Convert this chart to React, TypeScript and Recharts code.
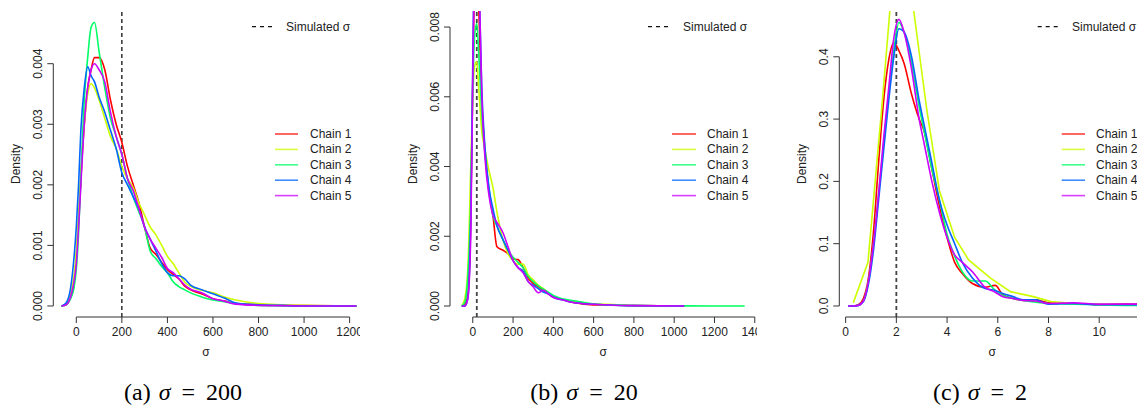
import React from 'react';
import { LineChart, Line, XAxis, YAxis, ReferenceLine } from 'recharts';

const FONT = '"Liberation Sans", Arial, Helvetica, sans-serif';
const SERIF = '"Liberation Serif", "Times New Roman", Times, serif';
const TEXT = '#222';
const AX = '#333';

const chainNames = ['Chain 1', 'Chain 2', 'Chain 3', 'Chain 4', 'Chain 5'];
const chainColors = ['#FF0000', '#CCFF00', '#00FF66', '#0066FF', '#CC00FF'];

// ---------- Panel (a): simulated sigma = 200 ----------
const xA = [-65, -45, -25, -10, 0, 10, 20, 35, 50, 65, 80, 100, 125, 150, 175, 200, 225, 250, 275, 300, 325, 350, 375, 400, 425, 450, 475, 500, 550, 600, 650, 700, 800, 900, 1000, 1230];
const a1 = [0, 0.00002, 0.00015, 0.0004, 0.0008, 0.0014, 0.0021, 0.003, 0.0036, 0.0039, 0.0041, 0.0041, 0.0039, 0.0034, 0.003, 0.0027, 0.0023, 0.002, 0.0017, 0.0013, 0.00095, 0.00085, 0.00072, 0.0006, 0.00052, 0.00045, 0.00033, 0.00027, 0.0002, 0.00012, 0.00008, 0.00004, 0.00002, 0.00001, 0.000005, 0];
const a2 = [0, 0.00003, 0.0002, 0.0005, 0.0009, 0.0015, 0.0022, 0.003, 0.0035, 0.00367, 0.0036, 0.0034, 0.0031, 0.0028, 0.0026, 0.0023, 0.0021, 0.00195, 0.0017, 0.0015, 0.0013, 0.00117, 0.001, 0.00082, 0.0007, 0.00055, 0.0004, 0.00033, 0.00026, 0.00022, 0.00015, 0.0001, 0.00004, 0.00002, 0.00001, 0];
const a3 = [0, 0.00002, 0.00012, 0.0003, 0.0006, 0.0012, 0.0021, 0.0034, 0.0041, 0.0046, 0.00468, 0.0042, 0.0036, 0.0031, 0.0028, 0.0025, 0.0021, 0.0018, 0.00155, 0.0013, 0.0009, 0.00078, 0.00065, 0.00055, 0.0004, 0.00032, 0.00027, 0.00022, 0.00015, 0.0001, 0.00007, 0.00004, 0.00001, 0.000005, 0, 0];
const a4 = [0, 0.00005, 0.0003, 0.0008, 0.0013, 0.002, 0.0029, 0.0036, 0.00395, 0.0038, 0.0037, 0.00345, 0.0032, 0.0029, 0.0026, 0.0022, 0.002, 0.0018, 0.0016, 0.0013, 0.0011, 0.0009, 0.0007, 0.00055, 0.0005, 0.0005, 0.00045, 0.00035, 0.00027, 0.0002, 0.00013, 0.00005, 0.00002, 0.00001, 0, 0];
const a5 = [0, 0.00002, 0.00015, 0.0004, 0.0007, 0.0013, 0.002, 0.003, 0.0036, 0.0039, 0.004, 0.0039, 0.0037, 0.0032, 0.0028, 0.0025, 0.0021, 0.0019, 0.0016, 0.0013, 0.0011, 0.00095, 0.0008, 0.00062, 0.00055, 0.00045, 0.00035, 0.00028, 0.00022, 0.00012, 0.00008, 0.00003, 0.00001, 0.000005, 0, 0];
const xTicksA = [0, 200, 400, 600, 800, 1000, 1200];
const yTicksA = [0, 0.001, 0.002, 0.003, 0.004];

// ---------- Panel (b): simulated sigma = 20 ----------
const xB = [-55, -40, -25, -10, 0, 10, 20, 30, 45, 60, 80, 100, 120, 150, 175, 200, 225, 250, 275, 300, 325, 350, 375, 400, 450, 500, 600, 700, 800, 1050, 1350];
const b1 = [0, 0.00005, 0.0003, 0.0025, 0.0065, 0.0092, 0.0095, 0.0085, 0.0058, 0.0045, 0.0033, 0.0026, 0.0017, 0.0016, 0.0015, 0.00135, 0.00133, 0.0011, 0.0008, 0.00065, 0.00055, 0.00045, 0.00035, 0.00025, 0.00018, 0.0001, 0.00003, 0.00003, 0.00001, 0, null];
const b2 = [0, 0.0002, 0.001, 0.004, 0.006, 0.0069, 0.007, 0.0062, 0.005, 0.0045, 0.0039, 0.0034, 0.0027, 0.0019, 0.0015, 0.0013, 0.0012, 0.0012, 0.0009, 0.00075, 0.0006, 0.0005, 0.00038, 0.00028, 0.00018, 0.00014, 0.00006, 0.00004, 0.00001, 0, null];
const b3 = [0, 0.0001, 0.0008, 0.003, 0.0062, 0.0078, 0.0081, 0.0072, 0.0055, 0.0044, 0.0034, 0.0026, 0.0023, 0.0019, 0.0016, 0.0014, 0.00125, 0.0011, 0.00085, 0.0007, 0.00058, 0.00048, 0.0004, 0.0003, 0.0002, 0.00015, 0.00006, 0.00003, 0.00001, 0.000005, 0];
const b4 = [0, 0, 0.0002, 0.0025, 0.007, 0.0105, 0.011, 0.0095, 0.0062, 0.0046, 0.0034, 0.0028, 0.0023, 0.0019, 0.0016, 0.0013, 0.0011, 0.001, 0.0007, 0.0006, 0.0005, 0.0004, 0.00035, 0.00025, 0.00017, 0.0001, 0.00005, 0.00002, 0.00001, 0, null];
const b5 = [0, 0, 0.0002, 0.002, 0.0065, 0.0105, 0.0115, 0.0098, 0.006, 0.0043, 0.0032, 0.0026, 0.0024, 0.0021, 0.0017, 0.0013, 0.0011, 0.00095, 0.0007, 0.00055, 0.00038, 0.00045, 0.00035, 0.00025, 0.00017, 0.0001, 0.00005, 0.00002, 0.00001, 0, null];
const xTicksB = [0, 200, 400, 600, 800, 1000, 1200, 1400];
const yTicksB = [0, 0.002, 0.004, 0.006, 0.008];

// ---------- Panel (c): simulated sigma = 2 ----------
const xC = [0.1, 0.3, 0.5, 0.7, 0.9, 1.1, 1.3, 1.5, 1.7, 1.9, 2.1, 2.3, 2.6, 2.9, 3.1, 3.4, 3.7, 4.0, 4.3, 4.6, 5.0, 5.5, 5.9, 6.2, 6.6, 7.0, 7.5, 8.0, 9.0, 10.0, 11.0, 12.0];
const c1 = [0, 0, 0.002, 0.012, 0.045, 0.12, 0.23, 0.33, 0.395, 0.423, 0.41, 0.39, 0.34, 0.3, 0.28, 0.22, 0.16, 0.11, 0.07, 0.052, 0.036, 0.03, 0.033, 0.018, 0.012, 0.009, 0.01, 0.005, 0.004, 0.002, 0.003, 0.002];
const c3 = [0, 0, 0.001, 0.008, 0.04, 0.1, 0.18, 0.26, 0.34, 0.41, 0.455, 0.44, 0.39, 0.32, 0.28, 0.22, 0.17, 0.115, 0.08, 0.055, 0.04, 0.04, 0.025, 0.017, 0.012, 0.009, 0.006, 0.004, 0.003, 0.002, 0.001, 0.001];
const c4 = [0, 0, 0.001, 0.007, 0.035, 0.09, 0.17, 0.25, 0.33, 0.4, 0.445, 0.44, 0.4, 0.33, 0.29, 0.23, 0.17, 0.13, 0.1, 0.07, 0.045, 0.028, 0.025, 0.02, 0.015, 0.01, 0.01, 0.003, 0.004, 0.002, 0.002, 0.002];
const c5 = [0, 0, 0.001, 0.008, 0.04, 0.1, 0.18, 0.27, 0.35, 0.43, 0.46, 0.44, 0.38, 0.3, 0.26, 0.2, 0.15, 0.11, 0.082, 0.07, 0.055, 0.03, 0.022, 0.015, 0.012, 0.009, 0.008, 0.004, 0.005, 0.003, 0.003, 0.003];
// chain 2 in panel (c) is a coarse polyline
const xC2 = [0.3, 0.88, 1.45, 2.0, 2.6, 3.2, 3.7, 4.3, 4.85, 5.7, 6.5, 7.4, 8.1, 9.0, 10.0, 11.0, 12.0];
const c2 = [0.005, 0.07, 0.33, 0.6, 0.5, 0.315, 0.185, 0.11, 0.074, 0.045, 0.023, 0.015, 0.007, 0.004, 0.003, 0.002, 0.002];
const xTicksC = [0, 2, 4, 6, 8, 10, 12];
const yTicksC = [0, 0.1, 0.2, 0.3, 0.4];

type Pt = { x: number; y: number | null };
const zip = (xs: number[], ys: (number | null)[]): Pt[] => xs.map((x, i) => ({ x, y: ys[i] ?? null }));

type Series = { name: string; color: string; data: Pt[]; curve: 'monotone' | 'linear' };

const mk = (xs: number[][], ys: (number | null)[][], curves?: ('monotone' | 'linear')[]): Series[] =>
  ys.map((y, i) => ({ name: chainNames[i], color: chainColors[i], data: zip(xs[i], y), curve: curves ? curves[i] : 'monotone' }));

const seriesA = mk([xA, xA, xA, xA, xA], [a1, a2, a3, a4, a5]);
const seriesB = mk([xB, xB, xB, xB, xB], [b1, b2, b3, b4, b5]);
const seriesC = mk([xC, xC2, xC, xC, xC], [c1, c2, c3, c4, c5], ['monotone', 'linear', 'monotone', 'monotone', 'monotone']);

const YTick = (props: any) => {
  const { x, y, payload, fmt } = props;
  return (
    <text
      transform={`translate(${x - 3.3},${y}) rotate(-90)`}
      textAnchor="middle"
      fontSize={12}
      fill={TEXT}
      fontFamily={FONT}
    >
      {fmt(payload.value)}
    </text>
  );
};

type PanelProps = {
  left: number;
  clipW: number;
  chartW: number;
  plotLeft: number;
  plotRight: number;
  xDomain: [number, number];
  yDomain: [number, number];
  xTicks: number[];
  yTicks: number[];
  digits: number;
  sim: number;
  dashColor: string;
  dashWidth: number;
  series: Series[];
  simDash: [number, number];
  simText: number;
  sample: [number, number];
  chainText: number;
  sigmaX: number;
};

function Panel(p: PanelProps) {
  const H = 370;
  const margin = { top: 11, right: p.chartW - p.plotRight, bottom: 23, left: p.plotLeft - 40 };
  const fmt = (v: number) => v.toFixed(p.digits);
  const rowY = (i: number) => 134 + i * 15.4;
  return (
    <div style={{ position: 'absolute', left: p.left, top: 0, width: p.clipW, height: H, overflow: 'hidden' }}>
      <LineChart width={p.chartW} height={H} margin={margin}>
        <XAxis
          type="number"
          dataKey="x"
          domain={p.xDomain}
          ticks={p.xTicks}
          allowDataOverflow
          interval={0}
          height={30}
          axisLine={false}
          tickLine={{ stroke: AX }}
          tickSize={6}
          tickMargin={4}
          tick={{ fill: TEXT, fontSize: 12, fontFamily: FONT }}
        />
        <YAxis
          type="number"
          domain={p.yDomain}
          ticks={p.yTicks}
          allowDataOverflow
          interval={0}
          width={40}
          axisLine={false}
          tickLine={{ stroke: AX }}
          tickSize={6}
          tick={(t: any) => <YTick {...t} fmt={fmt} />}
        />
        <ReferenceLine x={p.sim} stroke={p.dashColor} strokeWidth={p.dashWidth} strokeDasharray="4 3" ifOverflow="visible" />
        {p.series.map((s) => (
          <Line
            key={s.name}
            data={s.data}
            dataKey="y"
            type={s.curve}
            stroke={s.color}
            strokeWidth={1.6}
            dot={false}
            activeDot={false}
            isAnimationActive={false}
          />
        ))}
        <ReferenceLine
          segment={[
            { x: p.xTicks[0], y: p.yDomain[0] },
            { x: p.xTicks[p.xTicks.length - 1], y: p.yDomain[0] },
          ]}
          stroke={AX}
          strokeWidth={1}
          ifOverflow="visible"
        />
        <ReferenceLine
          segment={[
            { x: p.xDomain[0], y: p.yTicks[0] },
            { x: p.xDomain[0], y: p.yTicks[p.yTicks.length - 1] },
          ]}
          stroke={AX}
          strokeWidth={1}
          ifOverflow="visible"
        />
      </LineChart>
      <svg
        width={p.clipW}
        height={H}
        style={{ position: 'absolute', left: 0, top: 0, pointerEvents: 'none' }}
      >
        <text
          transform={`translate(${p.plotLeft - 33.3},164) rotate(-90)`}
          textAnchor="middle"
          fontSize={12}
          fill={TEXT}
          fontFamily={FONT}
        >
          Density
        </text>
        <text x={p.sigmaX} y={355.5} textAnchor="middle" fontSize={12} fill={TEXT} fontFamily={FONT}>
          σ
        </text>
        <line
          x1={p.simDash[0]}
          x2={p.simDash[1]}
          y1={26.7}
          y2={26.7}
          stroke="#111"
          strokeWidth={1.2}
          strokeDasharray="4 4"
        />
        <text x={p.simText} y={26.7} dominantBaseline="central" fontSize={12} fill={TEXT} fontFamily={FONT}>
          Simulated σ
        </text>
        {chainNames.map((n, i) => (
          <g key={n}>
            <line
              x1={p.sample[0]}
              x2={p.sample[1]}
              y1={rowY(i)}
              y2={rowY(i)}
              stroke={chainColors[i]}
              strokeOpacity={0.75}
              strokeWidth={1.6}
            />
            <text x={p.chainText} y={rowY(i)} dominantBaseline="central" fontSize={12} fill={TEXT} fontFamily={FONT}>
              {n}
            </text>
          </g>
        ))}
      </svg>
    </div>
  );
}

const Caption = ({ cx, label, value }: { cx: number; label: string; value: string }) => (
  <div
    style={{
      position: 'absolute',
      left: cx - 120,
      width: 240,
      top: 381,
      textAlign: 'center',
      fontFamily: SERIF,
      fontSize: 24,
      lineHeight: '23px',
      color: '#000',
      whiteSpace: 'nowrap',
    }}
  >
    <span>{label}</span>
    <span style={{ fontStyle: 'italic', marginLeft: 8 }}>σ</span>
    <span style={{ margin: '0 11px' }}>=</span>
    <span>{value}</span>
  </div>
);

export default function App() {
  return (
    <div style={{ position: 'absolute', left: 0, top: 0, width: 1137, height: 407, background: '#fff', overflow: 'hidden' }}>
      <Panel
        left={0}
        clipW={360}
        chartW={400}
        plotLeft={53.3}
        plotRight={373}
        xDomain={[-101, 1302.6]}
        yDomain={[-0.000182, 0.00487]}
        xTicks={xTicksA}
        yTicks={yTicksA}
        digits={3}
        sim={200}
        dashColor="#111"
        dashWidth={1.3}
        series={seriesA}
        simDash={[252, 272]}
        simText={286}
        sample={[275, 298]}
        chainText={310}
        sigmaX={206}
      />
      <Panel
        left={380}
        clipW={377}
        chartW={400}
        plotLeft={70}
        plotRight={378.8}
        xDomain={[-113, 1420]}
        yDomain={[-0.000315, 0.00846]}
        xTicks={xTicksB}
        yTicks={yTicksB}
        digits={3}
        sim={20}
        dashColor="#444"
        dashWidth={1.8}
        series={seriesB}
        simDash={[268, 290]}
        simText={303}
        sample={[292, 316]}
        chainText={327}
        sigmaX={223.3}
      />
      <Panel
        left={760}
        clipW={377}
        chartW={420}
        plotLeft={79.3}
        plotRight={402.6}
        xDomain={[-0.25, 12.5]}
        yDomain={[-0.0177, 0.4735]}
        xTicks={xTicksC}
        yTicks={yTicksC}
        digits={1}
        sim={2}
        dashColor="#444"
        dashWidth={1.8}
        series={seriesC}
        simDash={[277.7, 299]}
        simText={312}
        sample={[301.7, 325]}
        chainText={336}
        sigmaX={232.3}
      />
      <Caption cx={183} label="(a)" value="200" />
      <Caption cx={584} label="(b)" value="20" />
      <Caption cx={980} label="(c)" value="2" />
    </div>
  );
}
